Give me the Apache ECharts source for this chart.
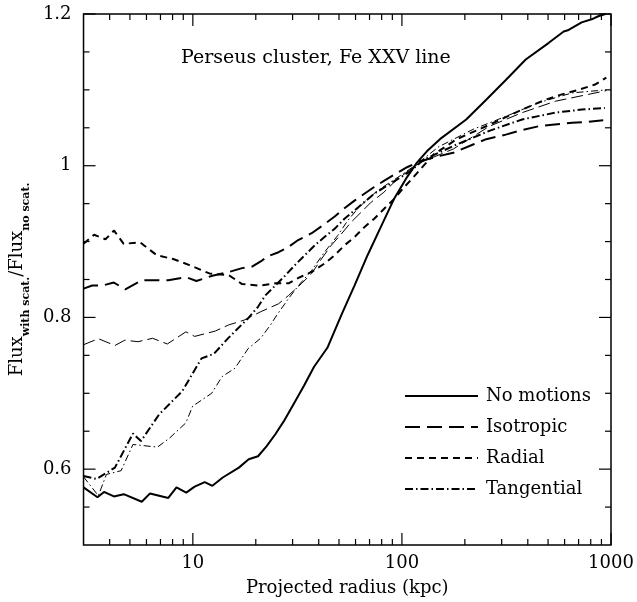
<!DOCTYPE html>
<html>
<head>
<meta charset="utf-8">
<script src="https://cdn.jsdelivr.net/npm/echarts@6/dist/echarts.min.js"></script>
<style>
html,body{margin:0;padding:0;background:#fff;}
#chart{width:637px;height:602px;}
</style>
</head>
<body>
<div id="chart"></div>
<script>
// ---- data (projected radius in kpc, flux ratio) ----
const noMotionsR = [3.0, 3.5, 3.76, 4.19, 4.67, 5.7, 6.24, 7.63, 8.35, 9.3, 10.2, 11.4, 12.4, 13.9, 16.6, 18.5, 20.5, 22.5, 24.8, 27.5, 30.5, 34, 38, 44, 51.3, 59.3, 68.5, 79.2, 91.6, 105.8, 118, 131.6, 152, 203, 253, 314, 391, 504, 594, 627, 724, 808, 869, 940];
const noMotionsV = [0.576, 0.563, 0.570, 0.564, 0.567, 0.557, 0.568, 0.562, 0.576, 0.569, 0.577, 0.583, 0.578, 0.589, 0.602, 0.613, 0.617, 0.630, 0.646, 0.665, 0.687, 0.710, 0.735, 0.760, 0.803, 0.842, 0.882, 0.919, 0.956, 0.985, 1.004, 1.019, 1.035, 1.061, 1.087, 1.113, 1.140, 1.162, 1.177, 1.179, 1.189, 1.193, 1.197, 1.200];

const isotropicR = [3.0, 3.3, 3.69, 4.19, 4.75, 5.7, 6.72, 7.63, 9.3, 10.4, 12.4, 14.9, 17.2, 19.2, 21.4, 23.0, 25.7, 28.7, 31.9, 37.0, 41.2, 47.7, 53.1, 59.3, 66.1, 73.7, 82, 91.6, 105.8, 122, 152, 176, 219, 253, 314, 364, 450, 523, 651, 751, 918];
const isotropicV = [0.838, 0.842, 0.842, 0.846, 0.837, 0.849, 0.849, 0.849, 0.853, 0.848, 0.855, 0.860, 0.865, 0.867, 0.875, 0.881, 0.886, 0.893, 0.902, 0.911, 0.920, 0.933, 0.944, 0.954, 0.963, 0.972, 0.980, 0.988, 0.998, 1.006, 1.013, 1.017, 1.028, 1.035, 1.041, 1.046, 1.052, 1.054, 1.0566, 1.0575, 1.060];

const radialR = [3.0, 3.37, 3.82, 4.2, 4.67, 5.59, 6.72, 8.05, 9.63, 12.0, 14.9, 17.2, 20.8, 24.8, 28.7, 32.5, 37, 42.6, 47.7, 53.1, 59.3, 66.1, 73.7, 82, 91.6, 102, 113.6, 142, 183, 262, 376, 486, 582, 698, 838, 950];
const radialV = [0.897, 0.909, 0.903, 0.9145, 0.897, 0.899, 0.882, 0.877, 0.869, 0.858, 0.8555, 0.844, 0.842, 0.845, 0.845, 0.853, 0.860, 0.871, 0.882, 0.895, 0.906, 0.919, 0.930, 0.943, 0.956, 0.971, 0.985, 1.015, 1.035, 1.054, 1.074, 1.087, 1.094, 1.100, 1.107, 1.116];

const tangentialR = [3.0, 3.46, 4.24, 5.17, 5.65, 6.89, 8.91, 11.0, 12.6, 14.8, 18.4, 20.5, 22.2, 24.8, 27.6, 30.8, 34.3, 38.3, 42.6, 47.7, 53.1, 59.3, 66.1, 73.7, 82, 95, 110, 127, 183, 262, 376, 542, 724, 934];
const tangentialV = [0.591, 0.587, 0.602, 0.647, 0.637, 0.672, 0.703, 0.746, 0.752, 0.773, 0.799, 0.814, 0.829, 0.842, 0.855, 0.869, 0.882, 0.895, 0.906, 0.917, 0.930, 0.941, 0.952, 0.963, 0.971, 0.982, 0.993, 1.008, 1.028, 1.046, 1.061, 1.070, 1.074, 1.076];

const thinDashR = [3.0, 3.53, 4.24, 4.73, 5.46, 6.42, 7.55, 9.26, 10.2, 12.8, 14.8, 17.6, 21.1, 25.7, 28.7, 33.2, 37, 41.2, 45.9, 51.3, 57.1, 63.8, 71.3, 82, 91.6, 105.8, 122, 176, 262, 376, 542, 778, 950];
const thinDashV = [0.764, 0.772, 0.763, 0.770, 0.768, 0.7725, 0.765, 0.781, 0.775, 0.782, 0.790, 0.7965, 0.8075, 0.818, 0.829, 0.845, 0.858, 0.877, 0.895, 0.910, 0.9255, 0.9386, 0.952, 0.965, 0.978, 0.992, 1.004, 1.022, 1.052, 1.070, 1.085, 1.094, 1.099];

const thinDashDotR = [3.0, 3.53, 3.86, 4.54, 5.17, 6.77, 7.74, 9.26, 9.98, 12.3, 13.8, 15.9, 18.4, 21.1, 23.5, 25.2, 28.7, 32, 37, 42.6, 49.3, 55, 61.3, 68.5, 76.4, 85.5, 98.4, 115, 150, 219, 314, 450, 651, 950];
const thinDashDotV = [0.590, 0.565, 0.593, 0.598, 0.6325, 0.629, 0.641, 0.661, 0.683, 0.700, 0.722, 0.733, 0.759, 0.7725, 0.790, 0.803, 0.825, 0.842, 0.862, 0.886, 0.908, 0.9276, 0.943, 0.956, 0.967, 0.976, 0.987, 1.0, 1.025, 1.048, 1.065, 1.083, 1.096, 1.100];

const xMajorTicks = [10, 100, 1000];
const xMinorTicks = [4, 5, 6, 7, 8, 9, 20, 30, 40, 50, 60, 70, 80, 90, 200, 300, 400, 500, 600, 700, 800, 900];
const yMajorTicks = [0.6, 0.8, 1.0, 1.2];
const yMinorTicks = [0.55, 0.65, 0.7, 0.75, 0.85, 0.9, 0.95, 1.05, 1.1, 1.15];
const legendNames = ['No motions', 'Isotropic', 'Radial', 'Tangential'];
const titleText = 'Perseus cluster, Fe XXV line';

const X_MIN = 3, X_MAX = 1000, Y_MIN = 0.5, Y_MAX = 1.2;
const FONT = '"DejaVu Serif", "Liberation Serif", serif';

function pairs(r, v) { return r.map((x, i) => [x, v[i]]); }

function lineSeries(name, r, v, width, dash) {
  return {
    name: name, type: 'line', data: pairs(r, v),
    symbol: 'none', showSymbol: false, smooth: false, animation: false,
    silent: true, color: '#000',
    lineStyle: { color: '#000', width: width, type: dash },
    z: 3
  };
}

function xTickRender(params, api) {
  const x = api.value(0), major = api.value(2);
  const len = major ? 12 : 6;
  const b = api.coord([x, Y_MIN]);
  const t = api.coord([x, Y_MAX]);
  const st = { stroke: '#000', lineWidth: 1.2 };
  return { type: 'group', children: [
    { type: 'line', shape: { x1: b[0], y1: b[1], x2: b[0], y2: b[1] - len }, style: st },
    { type: 'line', shape: { x1: t[0], y1: t[1], x2: t[0], y2: t[1] + len }, style: st }
  ]};
}
function yTickRender(params, api) {
  const y = api.value(1), major = api.value(2);
  const len = major ? 12 : 6;
  const l = api.coord([X_MIN, y]);
  const r = api.coord([X_MAX, y]);
  const st = { stroke: '#000', lineWidth: 1.2 };
  return { type: 'group', children: [
    { type: 'line', shape: { x1: l[0], y1: l[1], x2: l[0] + len, y2: l[1] }, style: st },
    { type: 'line', shape: { x1: r[0], y1: r[1], x2: r[0] - len, y2: r[1] }, style: st }
  ]};
}

const xTickData = xMajorTicks.map(v => [v, Y_MIN, 1]).concat(xMinorTicks.map(v => [v, Y_MIN, 0]));
const yTickData = yMajorTicks.map(v => [X_MIN, v, 1]).concat(yMinorTicks.map(v => [X_MIN, v, 0]));

const chart = echarts.init(document.getElementById('chart'), null, { renderer: 'canvas' });
chart.setOption({
  animation: false,
  backgroundColor: '#fff',
  grid: { left: 76, top: 14, right: 26, bottom: 54, show: true, borderColor: '#000', borderWidth: 1.5, backgroundColor: 'transparent' },
  graphic: [{
    type: 'text', left: 181, top: 49,
    style: { text: titleText, font: '19px ' + FONT, fill: '#000' }
  }],
  legend: {
    data: legendNames, orient: 'vertical', left: 399, top: 382,
    itemWidth: 73, itemHeight: 14, itemGap: 13, selectedMode: false,
    itemStyle: { color: 'rgba(0,0,0,0)', borderWidth: 0, opacity: 0 },
    textStyle: { fontFamily: FONT, fontSize: 18, color: '#000', padding: [0, 0, 0, 3] }
  },
  xAxis: {
    type: 'log', logBase: 10, min: X_MIN, max: X_MAX,
    axisLine: { show: false }, axisTick: { show: false }, splitLine: { show: false },
    axisLabel: {
      margin: 9, color: '#000', fontFamily: FONT, fontSize: 18,
      showMinLabel: false,
      formatter: function (v) { return xMajorTicks.some(t => Math.abs(t - v) < 1e-6 * t) ? String(Math.round(v)) : ''; }
    },
    name: 'Projected radius (kpc)', nameLocation: 'middle', nameGap: 34,
    nameTextStyle: { color: '#000', fontFamily: FONT, fontSize: 18 }
  },
  yAxis: {
    type: 'value', min: Y_MIN, max: Y_MAX, interval: 0.1,
    axisLine: { show: false }, axisTick: { show: false }, splitLine: { show: false },
    axisLabel: {
      margin: 12, color: '#000', fontFamily: FONT, fontSize: 18,
      formatter: function (v) {
        const m = yMajorTicks.find(t => Math.abs(t - v) < 1e-6);
        return m === undefined ? '' : String(+m.toFixed(1));
      }
    },
    name: '{a|Flux}{b|with scat.}{a|/Flux}{b|no scat.}',
    nameLocation: 'middle', nameGap: 43, nameRotate: 90,
    nameTextStyle: {
      color: '#000', fontFamily: FONT,
      rich: {
        a: { fontFamily: FONT, fontSize: 18, color: '#000', lineHeight: 22, verticalAlign: 'middle' },
        b: { fontFamily: FONT, fontSize: 11, color: '#000', fontWeight: 'bold', lineHeight: 22, verticalAlign: 'bottom', padding: [0, 0, -4, 0] }
      }
    }
  },
  series: [
    lineSeries('No motions', noMotionsR, noMotionsV, 2, 'solid'),
    lineSeries('Isotropic', isotropicR, isotropicV, 2, [15, 7]),
    lineSeries('Radial', radialR, radialV, 2, [7, 5]),
    lineSeries('Tangential', tangentialR, tangentialV, 2, [8, 3, 1.5, 3]),
    lineSeries('Isotropic (thin)', thinDashR, thinDashV, 1, [12, 5]),
    lineSeries('Tangential (thin)', thinDashDotR, thinDashDotV, 1, [7, 3, 1.5, 3]),
    { type: 'custom', name: 'xticks', data: xTickData, renderItem: xTickRender, silent: true, z: 5, encode: { x: 0, y: 1 } },
    { type: 'custom', name: 'yticks', data: yTickData, renderItem: yTickRender, silent: true, z: 5, encode: { x: 0, y: 1 } }
  ]
});
</script>
</body>
</html>
